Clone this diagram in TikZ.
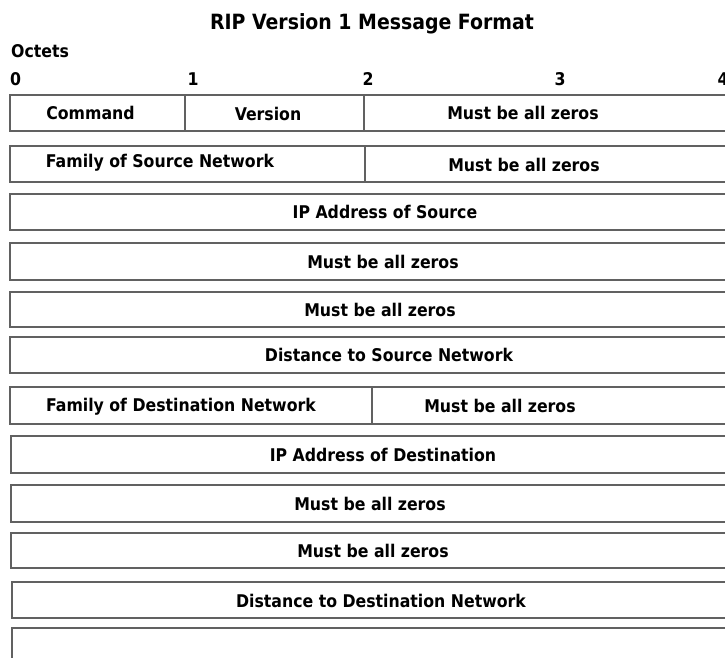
\documentclass[tikz,border=0pt]{standalone}
\usepackage{fontspec}
\setmainfont{DejaVu Sans Condensed}[BoldFont={DejaVu Sans Condensed Bold}]
\begin{document}
\begin{tikzpicture}[x=1bp,y=-1bp,
  cell/.style={draw=black!62, line width=1.4bp, inner sep=0pt, outer sep=0pt, anchor=north west},
  lbl/.style={inner sep=0pt, font=\fontsize{17.5bp}{19bp}\selectfont\bfseries, anchor=center},
  hdr/.style={inner sep=0pt, font=\fontsize{17.5bp}{19bp}\selectfont\bfseries, anchor=base},
  ttl/.style={inner sep=0pt, font=\fontsize{21bp}{24bp}\selectfont\bfseries, anchor=base}]
\clip (0,0) rectangle (725,658);
\fill[white] (0,0) rectangle (725,658);

% headings
\node[ttl] (title) at (372,30) {RIP Version 1 Message Format};
\node[hdr, anchor=base west] (octets) at (11,58) {Octets};
\node[hdr] (o0) at (15.5,86) {0};
\node[hdr] (o1) at (193,86) {1};
\node[hdr] (o2) at (368,86) {2};
\node[hdr] (o3) at (560,86) {3};
\node[hdr] (o4) at (723,86) {4};

% row 1
\node[cell, minimum width=175bp, minimum height=36bp] (r1a) at (10,95) {};
\node[cell, minimum width=179bp, minimum height=36bp] (r1b) at (185,95) {};
\node[cell, minimum width=380bp, minimum height=36bp] (r1c) at (364,95) {};
\node[lbl] (t1a) at (90.5,113) {Command};
\node[lbl] (t1b) at (268,114) {Version};
\node[lbl] (t1c) at (523,113) {Must be all zeros};

% row 2
\node[cell, minimum width=355bp, minimum height=36bp] (r2a) at (10,146) {};
\node[cell, minimum width=380bp, minimum height=36bp] (r2b) at (365,146) {};
\node[lbl] (t2a) at (160,163) {Family of Source Network};
\node[lbl] (t2b) at (524,165) {Must be all zeros};

% row 3
\node[cell, minimum width=735bp, minimum height=36bp] (r3) at (10,194) {};
\node[lbl] (t3) at (385,212) {IP Address of Source};

% row 4
\node[cell, minimum width=735bp, minimum height=37bp] (r4) at (10,243) {};
\node[lbl] (t4) at (383,262) {Must be all zeros};

% row 5
\node[cell, minimum width=735bp, minimum height=35bp] (r5) at (10,292) {};
\node[lbl] (t5) at (380,309.5) {Must be all zeros};

% row 6
\node[cell, minimum width=735bp, minimum height=36bp] (r6) at (10,337) {};
\node[lbl] (t6) at (389,355) {Distance to Source Network};

% row 7
\node[cell, minimum width=362bp, minimum height=37bp] (r7a) at (10,387) {};
\node[cell, minimum width=380bp, minimum height=37bp] (r7b) at (372,387) {};
\node[lbl] (t7a) at (181,407) {Family of Destination Network};
\node[lbl] (t7b) at (500,406) {Must be all zeros};

% row 8
\node[cell, minimum width=735bp, minimum height=37bp] (r8) at (11,436) {};
\node[lbl] (t8) at (383,455) {IP Address of Destination};

% row 9
\node[cell, minimum width=735bp, minimum height=37bp] (r9) at (11,485) {};
\node[lbl] (t9) at (370,504) {Must be all zeros};

% row 10
\node[cell, minimum width=735bp, minimum height=35bp] (r10) at (11,533) {};
\node[lbl] (t10) at (373,550.5) {Must be all zeros};

% row 11
\node[cell, minimum width=735bp, minimum height=36bp] (r11) at (12,582) {};
\node[lbl] (t11) at (381,601) {Distance to Destination Network};

% row 12
\node[cell, minimum width=735bp, minimum height=60bp] (r12) at (12,628) {};
\end{tikzpicture}
\end{document}
